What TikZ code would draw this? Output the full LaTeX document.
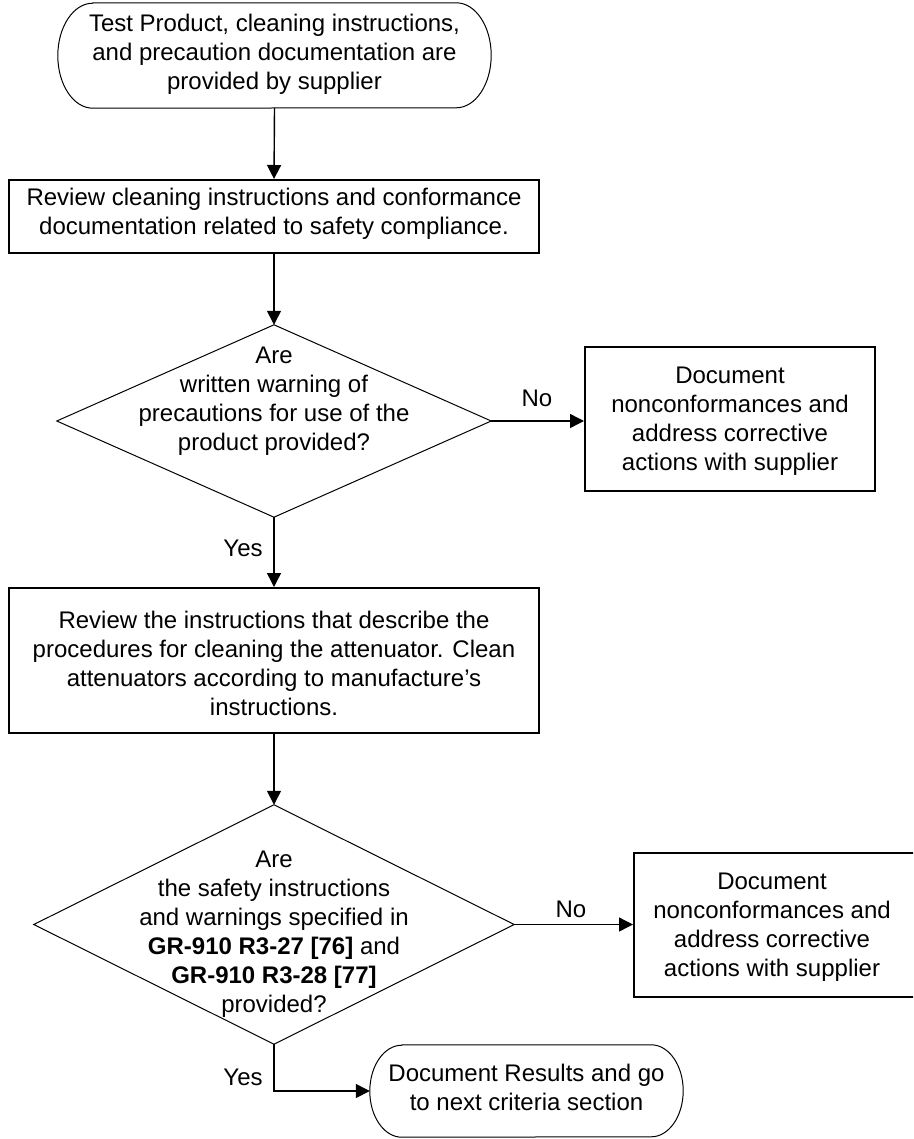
\documentclass[tikz,border=0pt]{standalone}
\usepackage{fontspec}
\setmainfont{Liberation Sans}
\usetikzlibrary{arrows.meta,calc}
\tikzset{
  txt/.style={align=center,font=\fontsize{24}{29}\selectfont,inner sep=0pt},
  area/.style={draw=none,inner sep=0pt},
  boxline/.style={line width=2pt},
  thin/.style={line width=1pt},
  conn/.style={line width=1.4pt,-{Triangle[length=14pt,width=14pt]}},
  plain/.style={line width=1.4pt},
  lbl/.style={font=\fontsize{24}{29}\selectfont,inner sep=0pt}
}
\begin{document}
\begin{tikzpicture}[x=1pt,y=-1pt]
\useasboundingbox (0,0) rectangle (913,1139);
\clip (0,0) rectangle (913,1139);
% top terminal
\node[area,minimum width=433pt,minimum height=105pt] (t1) at (274.5,55.5) {};
\draw[thin] ([xshift=35pt]t1.north west) -- ([xshift=-35pt]t1.north east)
  arc[start angle=90,end angle=-90,x radius=35pt,y radius=52.5pt]
  -- ([xshift=35pt]t1.south west)
  arc[start angle=270,end angle=90,x radius=35pt,y radius=52.5pt] -- cycle;
\node[txt] (t1t) at (274.5,54) {Test Product, cleaning instructions,\\and precaution documentation are\\provided by supplier};
% box 1
\node[boxline,draw,minimum width=530pt,minimum height=73pt,inner sep=0pt] (b1) at (274,216.5) {};
\node[txt] (b1t) at (274,214) {Review cleaning instructions and conformance\\documentation related to safety compliance.};
% diamond 1
\node[area,minimum width=434pt,minimum height=192pt] (d1) at (274,421) {};
\draw[thin] (d1.north) -- (d1.east) -- (d1.south) -- (d1.west) -- cycle;
\node[txt] (d1t) at (274,401) {Are\\written warning of\\precautions for use of the\\product provided?};
% doc box 1
\node[boxline,draw,minimum width=290pt,minimum height=144pt,inner sep=0pt] (e1) at (730,419) {};
\node[txt] (e1t) at (730,421) {Document\\nonconformances and\\address corrective\\actions with supplier};
% box 2
\node[boxline,draw,minimum width=530pt,minimum height=145pt,inner sep=0pt] (b2) at (274,660.5) {};
\node[txt] (b2t) at (274,663) {Review the instructions that describe the\\procedures for cleaning the attenuator. Clean\\attenuators according to manufacture's\\instructions.};
% diamond 2
\node[area,minimum width=480pt,minimum height=239pt] (d2) at (274,924.5) {};
\draw[thin] (d2.north) -- (d2.east) -- (d2.south) -- (d2.west) -- cycle;
\node[txt] (d2t) at (274,934) {Are\\the safety instructions\\and warnings specified in\\\textbf{GR-910 R3-27 [76]} and\\\textbf{GR-910 R3-28 [77]}\\provided?};
% doc box 2 (right edge cut off)
\node[boxline,draw,minimum width=300pt,minimum height=144pt,inner sep=0pt] (e2) at (784,925) {};
\node[txt] (e2t) at (772,927) {Document\\nonconformances and\\address corrective\\actions with supplier};
% end terminal
\node[area,minimum width=313pt,minimum height=92pt] (t2) at (526.5,1091) {};
\draw[thin] ([xshift=32pt]t2.north west) -- ([xshift=-32pt]t2.north east)
  arc[start angle=90,end angle=-90,x radius=32pt,y radius=46pt]
  -- ([xshift=32pt]t2.south west)
  arc[start angle=270,end angle=90,x radius=32pt,y radius=46pt] -- cycle;
\node[txt] (t2t) at (526.5,1087) {Document Results and go\\to next criteria section};
% connectors
\draw[conn] (t1.south) -- (b1.north);
\draw[conn] (b1.south) -- (d1.north);
\draw[conn] (d1.east) -- (d1.east -| e1.west);
\draw[conn] (d1.south) -- (b2.north);
\draw[conn] (b2.south) -- (d2.north);
\draw[conn] (d2.east) -- (d2.east -| e2.west);
\draw[conn] (d2.south) |- (t2.west);
% labels
\node[lbl] (no1) at (537,398) {No};
\node[lbl] (yes1) at (243,548) {Yes};
\node[lbl] (no2) at (571,909) {No};
\node[lbl] (yes2) at (243,1077) {Yes};
\end{tikzpicture}
\end{document}
